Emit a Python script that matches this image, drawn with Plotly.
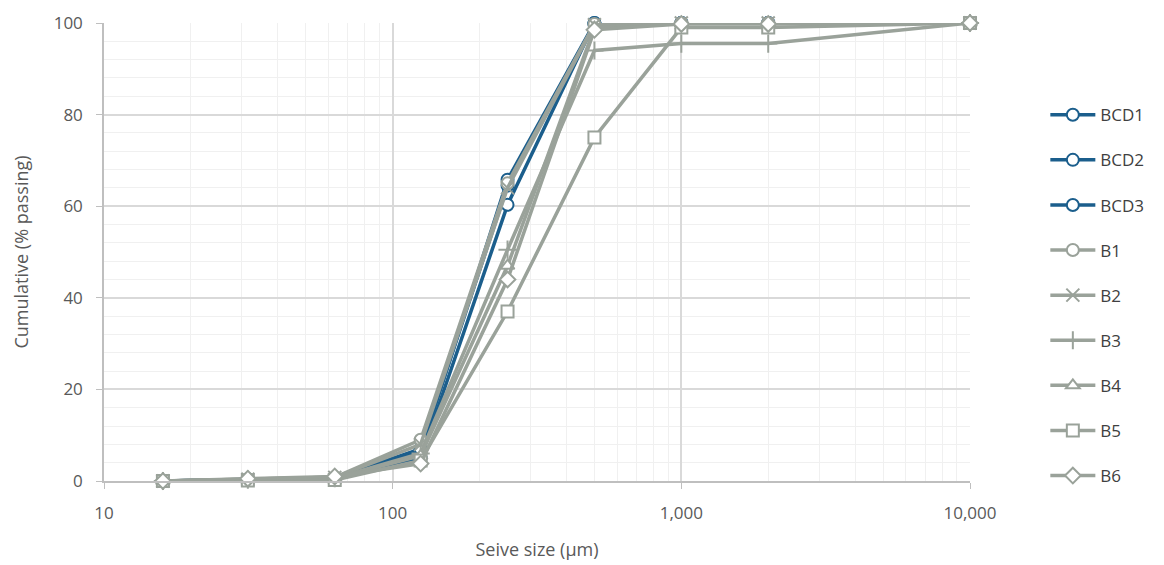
import plotly.graph_objects as go

sizes = [16, 31.5, 63, 125, 250, 500, 1000, 2000, 10000]
series_names = ["BCD1", "BCD2", "BCD3", "B1", "B2", "B3", "B4", "B5", "B6"]
BCD1 = [0, 0.3, 0.6, 6.5, 65.8, 100, 100, 100, 100]
BCD2 = [0, 0.3, 0.5, 5.0, 60.3, 100, 100, 100, 100]
BCD3 = [0, 0.4, 0.7, 7.0, 64.5, 99.8, 100, 100, 100]
B1 = [0, 0.4, 0.8, 9.0, 65.0, 99.8, 100, 100, 100]
B2 = [0, 0.4, 0.8, 8.0, 64.0, 99.6, 100, 100, 100]
B3 = [0, 0.3, 0.6, 6.0, 50.5, 94.0, 95.5, 95.5, 100]
B4 = [0, 0.3, 0.6, 5.5, 47.0, 99.0, 100, 100, 100]
B5 = [0, 0.1, 0.2, 4.5, 37.0, 75.0, 99.0, 99.0, 100]
B6 = [0, 0.5, 1.0, 3.8, 44.0, 98.5, 99.8, 99.8, 100]
x_tickvals = [10, 100, 1000, 10000]
x_ticktext = ["10", "100", "1,000", "10,000"]

values = [BCD1, BCD2, BCD3, B1, B2, B3, B4, B5, B6]
blue = "#1B5E8C"
grey = "#9AA29A"
colors = [blue, blue, blue] + [grey] * 6
symbols = ["circle", "circle", "circle", "circle", "x-thin-open", "cross-thin-open",
           "triangle-up", "square", "diamond"]

fig = go.Figure()
for i, (name, vals) in enumerate(zip(series_names, values)):
    sym = symbols[i]
    thin = sym.endswith("thin-open")
    fig.add_trace(go.Scatter(
        x=sizes, y=vals, name=name, mode="lines+markers",
        legendgroup=name, cliponaxis=False,
        line=dict(color=colors[i], width=3.5),
        marker=dict(symbol=sym, size=12 if not thin else 13,
                    color=colors[i] if thin else "white",
                    line=dict(color=colors[i], width=2)),
    ))

fig.update_layout(
    width=1164, height=565,
    margin=dict(l=104, r=194, t=23, b=84, autoexpand=False),
    plot_bgcolor="white", paper_bgcolor="white",
    font=dict(family="Open Sans", color="#595959", size=16),
    showlegend=True,
    legend=dict(x=1.087, y=0.838, xanchor="left", yanchor="top",
                font=dict(size=17, color="#404040"),
                tracegroupgap=20, traceorder="grouped", itemwidth=45),
    xaxis=dict(type="log", range=[1, 4], automargin=False,
               tickvals=x_tickvals, ticktext=x_ticktext,
               showgrid=True, gridcolor="#D9D9D9", gridwidth=1.5,
               minor=dict(showgrid=True, gridcolor="#F0F0F0", dtick="D1", gridwidth=1),
               showline=True, linecolor="#BFBFBF", linewidth=1.5,
               ticks="outside", tickcolor="#BFBFBF", ticklen=6,
               ticklabelstandoff=10,
               zeroline=False,
               title=dict(text="Seive size (µm)", font=dict(size=18, color="#595959"), standoff=20),
               tickfont=dict(size=17, color="#595959")),
    yaxis=dict(range=[0, 100], dtick=20, automargin=False,
               showgrid=True, gridcolor="#D9D9D9", gridwidth=1.5,
               minor=dict(showgrid=True, gridcolor="#F0F0F0", dtick=4, gridwidth=1),
               showline=True, linecolor="#BFBFBF", linewidth=1.5,
               ticks="outside", tickcolor="#BFBFBF", ticklen=6,
               ticklabelstandoff=10,
               zeroline=False,
               title=dict(text="Cumulative (% passing)", font=dict(size=18, color="#595959"), standoff=20),
               tickfont=dict(size=17, color="#595959")),
)

fig.write_html("out.html")
